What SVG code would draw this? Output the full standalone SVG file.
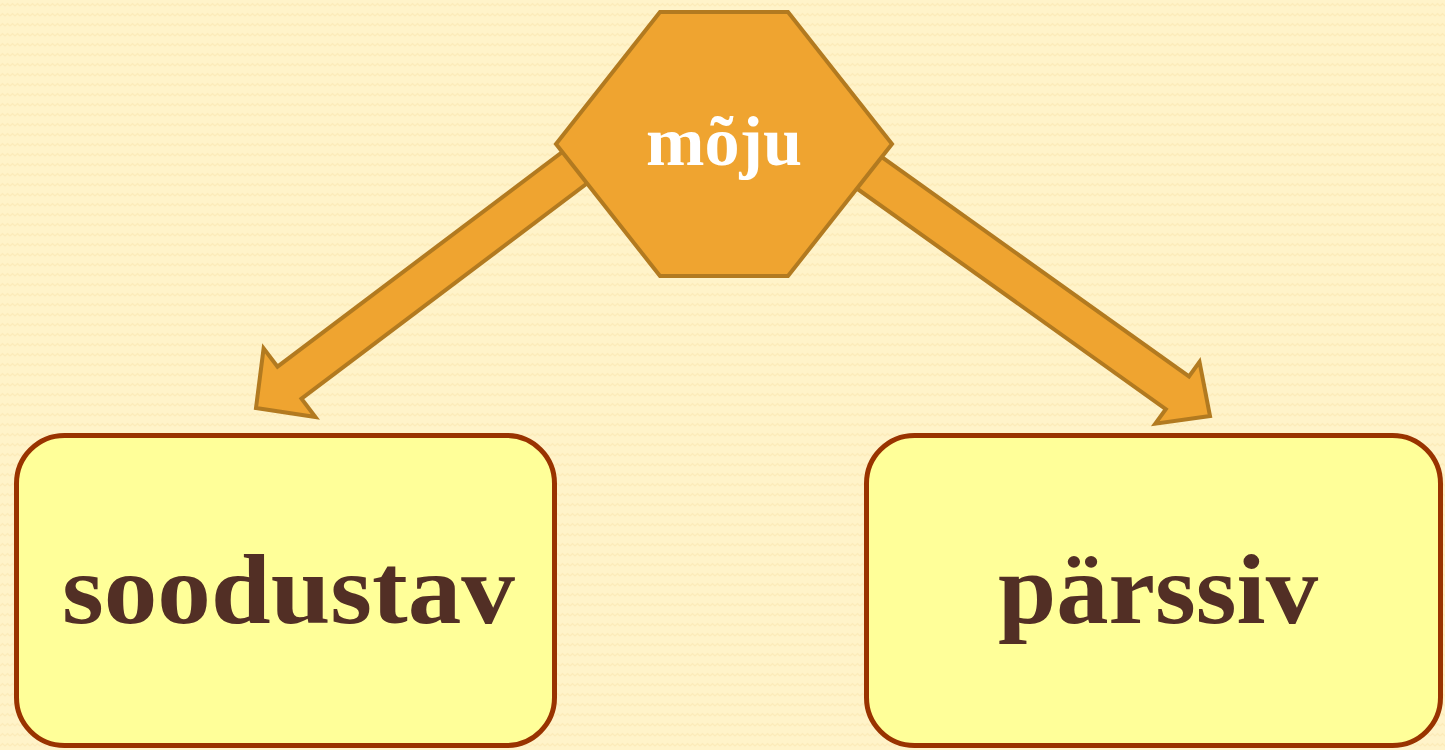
<svg xmlns="http://www.w3.org/2000/svg" width="1445" height="750" viewBox="0 0 1445 750">
  <defs>
    <pattern id="zig" width="10" height="10" patternUnits="userSpaceOnUse">
      <rect width="10" height="10" fill="#fff3c9"/>
      <polyline points="0,6 2.5,3.5 5,6 7.5,3.5 10,6" fill="none" stroke="#fcebb9" stroke-width="1.2"/>
    </pattern>
    <style>
      .arrow { fill: #efa430; stroke: #b27a20; stroke-width: 4; stroke-linejoin: miter; }
      .hex { fill: #efa430; stroke: #b27a20; stroke-width: 4; stroke-linejoin: miter; }
      .box { fill: #ffff99; stroke: #993300; stroke-width: 5; }
      .big { font-family: "Liberation Serif", "Times New Roman", serif; font-weight: bold; font-size: 100px; fill: #522f25; text-anchor: middle; }
      .hexlabel { font-family: "Liberation Serif", "Times New Roman", serif; font-weight: bold; font-size: 70px; fill: #ffffff; text-anchor: middle; }
    </style>
  </defs>
  <rect width="1445" height="750" fill="url(#zig)"/>
  <g id="connectors">
    <polygon class="arrow" points="634.0,148.0 301.5,398.7 315.4,417.0 256,408 263.6,348.4 277.5,366.7 610.0,116.0"/>
    <polygon class="arrow" points="823.9,165.0 1165.8,409.1 1155.3,423.7 1210,416 1199.5,361.9 1189.0,376.5 847.2,132.4"/>
  </g>
  <g id="node-moju">
    <polygon class="hex" points="660,12 788,12 892,144 788,276 660,276 556,144"/>
    <text class="hexlabel" x="724" y="165" textLength="156" lengthAdjust="spacingAndGlyphs">mõju</text>
  </g>
  <g id="node-soodustav">
    <rect class="box" x="16.5" y="435.5" width="538" height="310" rx="48" ry="48"/>
    <text class="big" x="288.5" y="623" textLength="453" lengthAdjust="spacingAndGlyphs">soodustav</text>
  </g>
  <g id="node-parssiv">
    <rect class="box" x="866.5" y="435.5" width="574" height="310" rx="48" ry="48"/>
    <text class="big" x="1158" y="623" textLength="320" lengthAdjust="spacingAndGlyphs">pärssiv</text>
  </g>
</svg>
